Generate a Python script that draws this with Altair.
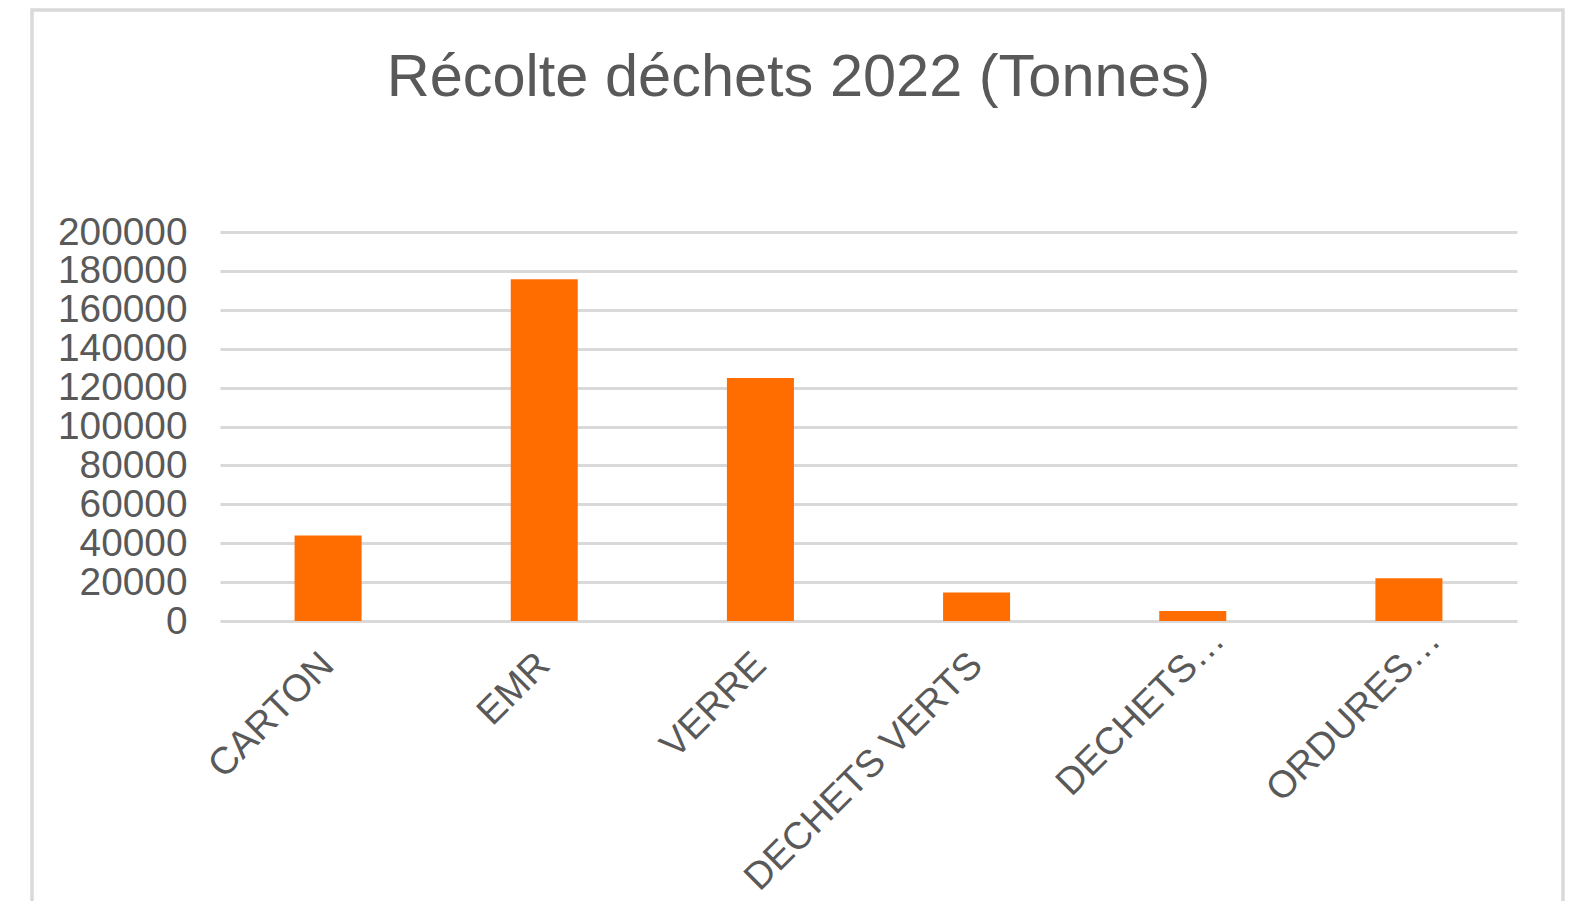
import altair as alt
import pandas as pd

categories = ["CARTON", "EMR", "VERRE", "DECHETS VERTS", "DECHETS…", "ORDURES…"]
tonnes = [44000, 175700, 124900, 14600, 5100, 22000]
y_ticks = [0, 20000, 40000, 60000, 80000, 100000, 120000, 140000, 160000, 180000, 200000]
title_text = "Récolte déchets 2022 (Tonnes)"

df = pd.DataFrame({"categorie": categories, "tonnes": tonnes})

FONT = "Liberation Sans"
TXT = "#595959"
W, H = 1297, 389
TRUNC = "indexof(datum.value, '…') >= 0"

bars = alt.Chart(df).mark_bar(color="#FF6D00").encode(
    x=alt.X(
        "categorie:N",
        sort=categories,
        scale=alt.Scale(paddingInner=0.69, paddingOuter=0.345),
        axis=alt.Axis(
            title=None, labelAngle=-45, labelAlign="right", labelBaseline="middle",
            labelPadding={"condition": {"test": TRUNC, "value": 13}, "value": 38},
            labelOffset={"condition": {"test": TRUNC, "value": 26}, "value": 0},
            ticks=False, domain=False, grid=False,
            labelFontSize=38, labelColor=TXT, labelFont=FONT, labelLimit=600,
        ),
    ),
    y=alt.Y(
        "tonnes:Q",
        scale=alt.Scale(domain=[0, 200000], nice=False),
        axis=alt.Axis(
            title=None, values=y_ticks, format="d", ticks=False, domain=False,
            gridColor="#D9D9D9", gridWidth=3, labelPadding=33,
            labelFontSize=38.8, labelColor=TXT, labelFont=FONT,
        ),
    ),
)

frame = alt.Chart(pd.DataFrame({"k": [0]})).mark_rect(
    fillOpacity=0, stroke="#D9D9D9", strokeWidth=3.5
).encode(
    x=alt.value(-188), x2=alt.value(1343), y=alt.value(-222), y2=alt.value(720)
)

chart = alt.layer(frame, bars).properties(
    width=W, height=H,
    background="white",
    title=alt.TitleParams(
        title_text, fontSize=59.5, font=FONT, color=TXT, fontWeight="normal",
        anchor="middle", dx=-70, offset=-100,
    ),
    autosize=alt.AutoSizeParams(type="none"),
    padding={"left": 212, "top": 224, "right": 59, "bottom": 280},
).configure_view(strokeWidth=0, stroke="transparent")

chart.save("out.html", embed_options={"renderer": "svg", "actions": False})
